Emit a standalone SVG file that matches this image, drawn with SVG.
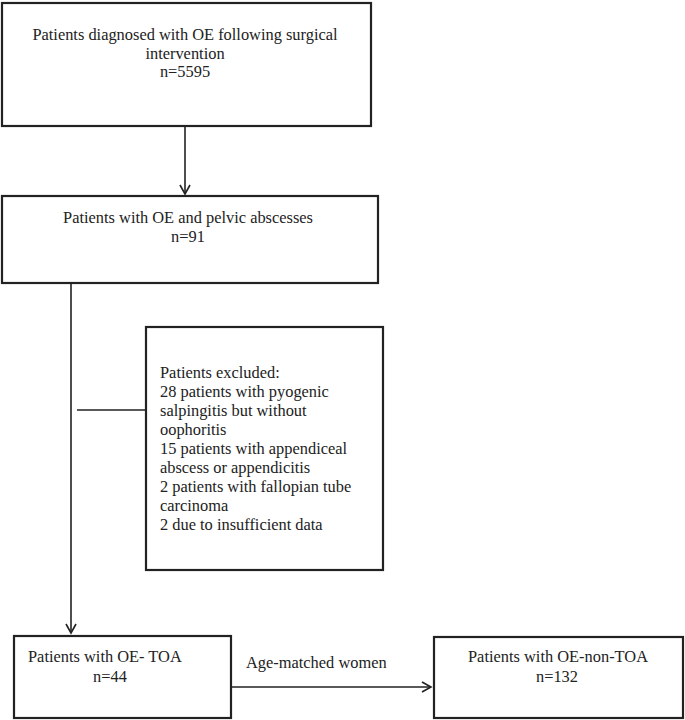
<svg xmlns="http://www.w3.org/2000/svg" width="685" height="720" viewBox="0 0 685 720">
<defs>
<marker id="arr" markerWidth="12" markerHeight="12" refX="10" refY="6" orient="auto" markerUnits="userSpaceOnUse">
<path d="M1,1 L10,6 L1,11" fill="none" stroke="#222" stroke-width="1.6"/>
</marker>
<style>
.box{fill:#fff;stroke:#222;stroke-width:2.2}
.ln{fill:none;stroke:#222;stroke-width:1.6}
text{font-family:"Liberation Serif","Times New Roman",serif;font-size:16.4px;fill:#222}
.c{text-anchor:middle}
</style>
</defs>
<rect width="685" height="720" fill="#fff"/>
<g id="connectors">
<line class="ln" x1="185" y1="126" x2="185" y2="194" marker-end="url(#arr)"/>
<line class="ln" x1="71" y1="283" x2="71" y2="633" marker-end="url(#arr)"/>
<line class="ln" x1="77" y1="410" x2="146" y2="410"/>
<line class="ln" x1="231" y1="687" x2="431" y2="687" marker-end="url(#arr)"/>
<text x="246" y="668">Age-matched women</text>
</g>
<g id="n1">
<rect class="box" x="2" y="3" width="369" height="123"/>
<text class="c" x="185" y="40">Patients diagnosed with OE following surgical</text>
<text class="c" x="185" y="58.5">intervention</text>
<text class="c" x="185" y="77">n=5595</text>
</g>
<g id="n2">
<rect class="box" x="2" y="196" width="376" height="87"/>
<text class="c" x="188" y="223">Patients with OE and pelvic abscesses</text>
<text class="c" x="188" y="242">n=91</text>
</g>
<g id="n3">
<rect class="box" x="146" y="327" width="237" height="243"/>
<text x="160" y="378">Patients excluded:</text>
<text x="160" y="397">28 patients with pyogenic</text>
<text x="160" y="416">salpingitis but without</text>
<text x="160" y="435">oophoritis</text>
<text x="160" y="454">15 patients with appendiceal</text>
<text x="160" y="473">abscess or appendicitis</text>
<text x="160" y="492">2 patients with fallopian tube</text>
<text x="160" y="511">carcinoma</text>
<text x="160" y="530">2 due to insufficient data</text>
</g>
<g id="n4">
<rect class="box" x="14" y="636" width="217" height="82"/>
<text x="28" y="662">Patients with OE- TOA</text>
<text class="c" x="110" y="682">n=44</text>
</g>
<g id="n5">
<rect class="box" x="434" y="637" width="249" height="81"/>
<text class="c" x="558" y="662">Patients with OE-non-TOA</text>
<text class="c" x="557" y="682">n=132</text>
</g>
</svg>
